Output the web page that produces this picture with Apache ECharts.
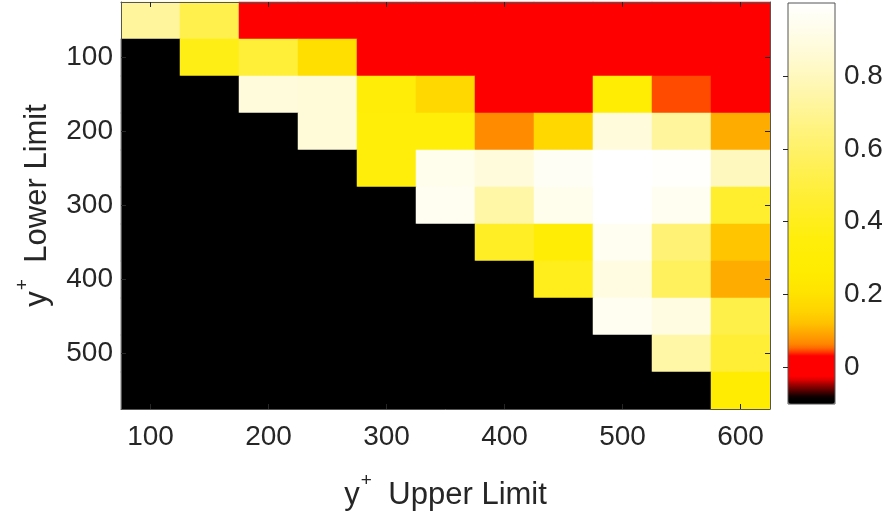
<!DOCTYPE html>
<html>
<head>
<meta charset="utf-8">
<script src="https://cdn.jsdelivr.net/npm/echarts@6/dist/echarts.min.js"></script>
<style>
html,body{margin:0;padding:0;background:#fff;}
#chart{width:886px;height:516px;}
</style>
</head>
<body>
<div id="chart"></div>
<script>
// ---- data ----
const xCats = [100,150,200,250,300,350,400,450,500,550,600];   // y+ upper limit
const yCats = [50,100,150,200,250,300,350,400,450,500,550];    // y+ lower limit
// one array per lower-limit row (values per upper-limit column); -0.1 = black (invalid)
const row050 = [0.72, 0.53, 0.00, 0.00, 0.00, 0.00, 0.00, 0.00, 0.00, 0.00, 0.00];
const row100 = [-0.1, 0.38, 0.48, 0.19, 0.00, 0.00, 0.00, 0.00, 0.00, 0.00, 0.00];
const row150 = [-0.1, -0.1, 0.88, 0.87, 0.32, 0.17, 0.035, 0.00, 0.30, 0.045, 0.00];
const row200 = [-0.1, -0.1, -0.1, 0.87, 0.33, 0.33, 0.07, 0.17, 0.88, 0.72, 0.10];
const row250 = [-0.1, -0.1, -0.1, -0.1, 0.34, 0.93, 0.88, 0.96, 1.00, 0.99, 0.80];
const row300 = [-0.1, -0.1, -0.1, -0.1, -0.1, 0.95, 0.74, 0.93, 1.00, 0.95, 0.45];
const row350 = [-0.1, -0.1, -0.1, -0.1, -0.1, -0.1, 0.43, 0.31, 0.95, 0.63, 0.13];
const row400 = [-0.1, -0.1, -0.1, -0.1, -0.1, -0.1, -0.1, 0.40, 0.90, 0.57, 0.10];
const row450 = [-0.1, -0.1, -0.1, -0.1, -0.1, -0.1, -0.1, -0.1, 0.95, 0.90, 0.52];
const row500 = [-0.1, -0.1, -0.1, -0.1, -0.1, -0.1, -0.1, -0.1, -0.1, 0.74, 0.47];
const row550 = [-0.1, -0.1, -0.1, -0.1, -0.1, -0.1, -0.1, -0.1, -0.1, -0.1, 0.28];
const rows = [row050,row100,row150,row200,row250,row300,row350,row400,row450,row500,row550];
const cbarTicks = [0, 0.2, 0.4, 0.6, 0.8];
const cMin = -0.1, cMax = 1.0;

// ---- colormap (style) ----
const cmapStops = [
  [-0.1,[0,0,0]],[-0.082,[0,0,0]],[-0.072,[50,0,0]],[-0.058,[110,0,0]],[-0.042,[180,0,0]],
  [-0.028,[255,0,0]],[0.035,[255,0,0]],[0.045,[255,75,0]],[0.06,[255,128,0]],
  [0.08,[255,152,0]],[0.1,[255,172,0]],[0.12,[255,192,0]],[0.15,[255,210,0]],
  [0.2,[255,226,0]],[0.26,[255,236,0]],[0.35,[255,238,10]],[0.45,[255,238,45]],
  [0.55,[255,240,85]],[0.65,[255,243,125]],[0.75,[255,246,170]],[0.85,[255,250,210]],
  [0.93,[255,253,235]],[1.0,[255,255,255]]
];
function cmap(v){
  for(let i=1;i<cmapStops.length;i++){
    const a=cmapStops[i-1], b=cmapStops[i];
    if(v<=b[0]){
      const t=(v-a[0])/(b[0]-a[0]||1);
      const c=a[1].map((ca,k)=>Math.round(ca+(b[1][k]-ca)*t));
      return 'rgb('+c.join(',')+')';
    }
  }
  return 'rgb(255,255,255)';
}
const cmapColors=[];
for(let i=0;i<=220;i++){ cmapColors.push(cmap(cMin+(cMax-cMin)*i/220)); }

const heatData=[];
rows.forEach((r,yi)=>r.forEach((v,xi)=>heatData.push([xi,yi,v])));

const FONT='Liberation Sans';
const TXT='#262626';
const LINE='#555555';
const tickFont={fontFamily:FONT,fontSize:28,color:TXT};
const nameRich={
  m:{fontFamily:FONT,fontSize:31,color:TXT,lineHeight:48},
  s:{fontFamily:FONT,fontSize:19,color:TXT,lineHeight:19,verticalAlign:'top',padding:[0,8,0,1]}
};
const evenIdx=(i)=>i%2===0;
const oddIdx=(i)=>i%2===1;

const chart=echarts.init(document.getElementById('chart'),null,{renderer:'canvas'});
chart.setOption({
  animation:false,
  backgroundColor:'#ffffff',
  grid:[
    {left:121,top:2,width:649,height:407,outerBoundsMode:'none',containLabel:false,show:false},
    {left:788,top:3,width:47,height:401,outerBoundsMode:'none',containLabel:false,show:true,
     borderColor:LINE,borderWidth:1,backgroundColor:'transparent',z:10}
  ],
  xAxis:[
    {type:'category',gridIndex:0,data:xCats,position:'bottom',
     axisLine:{show:true,lineStyle:{color:LINE,width:1}},
     axisTick:{show:true,inside:true,length:5,alignWithLabel:true,interval:evenIdx,lineStyle:{color:TXT}},
     axisLabel:Object.assign({interval:evenIdx,margin:14},tickFont),
     splitLine:{show:false},
     name:'{m|y}{s|+}{m| Upper Limit}',nameLocation:'middle',nameGap:62,
     nameTextStyle:{rich:nameRich},z:5},
    {type:'category',gridIndex:0,data:xCats,position:'top',
     axisLine:{show:true,lineStyle:{color:LINE,width:1}},
     axisTick:{show:true,inside:true,length:5,alignWithLabel:true,interval:evenIdx,lineStyle:{color:TXT}},
     axisLabel:{show:false},splitLine:{show:false},z:5},
    {type:'value',gridIndex:1,show:false,min:0,max:1}
  ],
  yAxis:[
    {type:'category',gridIndex:0,data:yCats,inverse:true,position:'left',
     axisLine:{show:true,lineStyle:{color:LINE,width:1}},
     axisTick:{show:true,inside:true,length:5,alignWithLabel:true,interval:oddIdx,lineStyle:{color:TXT}},
     axisLabel:Object.assign({interval:oddIdx,margin:8},tickFont),
     splitLine:{show:false},
     name:'{m|y}{s|+}{m| Lower Limit}',nameLocation:'middle',nameGap:60,
     nameTextStyle:{rich:nameRich},z:5},
    {type:'category',gridIndex:0,data:yCats,inverse:true,position:'right',
     axisLine:{show:true,lineStyle:{color:LINE,width:1}},
     axisTick:{show:true,inside:true,length:5,alignWithLabel:true,interval:oddIdx,lineStyle:{color:TXT}},
     axisLabel:{show:false},splitLine:{show:false},z:5},
    {type:'value',gridIndex:1,position:'right',min:cMin,max:cMax,
     axisLine:{show:false},
     axisTick:{show:true,inside:true,length:5,customValues:cbarTicks,lineStyle:{color:TXT}},
     axisLabel:Object.assign({margin:9,customValues:cbarTicks,formatter:(v)=>String(+v.toFixed(1))},tickFont),
     splitLine:{show:false},z:11}
  ],
  visualMap:{
    type:'continuous',min:cMin,max:cMax,seriesIndex:0,calculable:false,
    orient:'vertical',left:788,top:3,itemWidth:47,itemHeight:401,padding:0,
    hoverLink:false,inRange:{color:cmapColors},z:2
  },
  series:[{
    type:'heatmap',xAxisIndex:0,yAxisIndex:0,data:heatData,
    itemStyle:{borderWidth:0},emphasis:{disabled:true},progressive:0
  }]
});
</script>
</body>
</html>
